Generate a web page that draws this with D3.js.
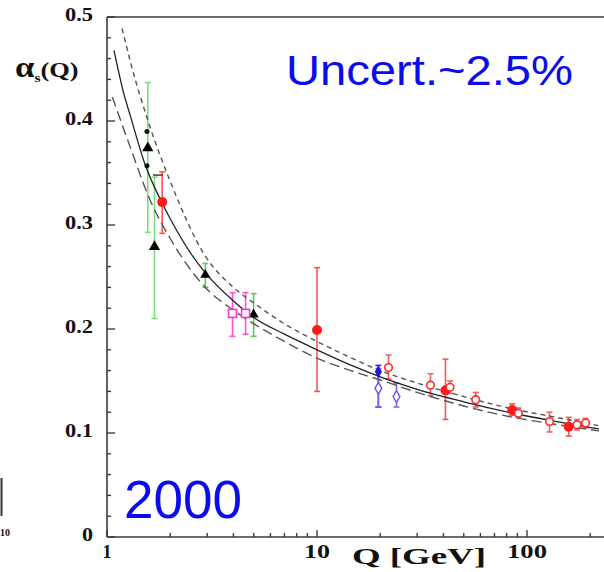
<!DOCTYPE html>
<html><head><meta charset="utf-8">
<script src="https://cdn.jsdelivr.net/npm/d3@7"></script>
<style>html,body{margin:0;padding:0;background:#fff;overflow:hidden}svg{display:block}</style>
</head><body>
<svg id="chart" width="604" height="572"></svg>
<script>
// ---- curves ----
const centralQ = [1.08,1.2,1.3,1.52,1.8,2,2.5,2.94,4,5,7,10,15,20,30,50,86,130,220];
const centralA = [0.468,0.427,0.403,0.358,0.324,0.306,0.273,0.254,0.227,0.211,0.195,0.180,0.164,0.154,0.142,0.130,0.119,0.112,0.104];
const upperQ = [1.18,1.3,1.58,2,2.94,4,5,7,10,15,20,30,50,86,130,220];
const upperA = [0.489,0.455,0.398,0.342,0.270,0.240,0.225,0.205,0.188,0.171,0.160,0.148,0.135,0.123,0.116,0.107];
const lowerQ = [1.06,1.3,1.58,2,2.94,4,5,7,10,15,20,30,50,86,130,220];
const lowerA = [0.423,0.373,0.327,0.287,0.240,0.218,0.205,0.188,0.172,0.159,0.151,0.139,0.126,0.115,0.109,0.102];

// ---- measurements ----
const greenTriQ = [1.564, 1.683];
const greenTriA = [0.374, 0.279];
const greenTriLo = [0.293, 0.210];
const greenTriHi = [0.437, 0.346];

const blackGreenQ = [2.94, 4.99];
const blackGreenA = [0.252, 0.214];
const blackGreenLo = [0.240, 0.193];
const blackGreenHi = [0.263, 0.234];

const redFilledQ = [1.832, 10, 40.9, 85, 158];
const redFilledA = [0.322, 0.199, 0.141, 0.122, 0.106];
const redFilledLo = [0.292, 0.140, 0.113, 0.117, 0.097];
const redFilledHi = [0.351, 0.259, 0.171, 0.128, 0.115];

const redOpenQ = [21.9, 34.7, 43, 57, 91, 128, 173, 190];
const redOpenA = [0.163, 0.146, 0.144, 0.132, 0.119, 0.111, 0.108, 0.1096];
const redOpenLo = [0.152, 0.136, 0.138, 0.125, 0.115, 0.101, 0.103, 0.105];
const redOpenHi = [0.175, 0.157, 0.150, 0.139, 0.124, 0.120, 0.113, 0.114];

const magentaQ = [3.96, 4.57];
const magentaA = [0.215, 0.215];
const magentaLo = [0.193, 0.195];
const magentaHi = [0.235, 0.235];

const blueFilledQ = [19.6];
const blueFilledA = [0.159];
const blueFilledLo = [0.125];
const blueFilledHi = [0.165];

const blueOpenQ = [19.6, 23.9];
const blueOpenA = [0.143, 0.135];
const blueOpenLo = [0.125, 0.125];
const blueOpenHi = [0.162, 0.148];

const blackDotQ = [1.55, 1.55];
const blackDotA = [0.390, 0.357];

const yTickVals = [0, 0.1, 0.2, 0.3, 0.4, 0.5];
const yTickLabels = ["0", "0.1", "0.2", "0.3", "0.4", "0.5"];
const xTickVals = [1, 10, 100];
const xTickLabels = ["1", "10", "100"];

// ---- drawing ----
const svg = d3.select("#chart");
const x = d3.scaleLog().domain([1, 100]).range([107, 527]);
const y = d3.scaleLinear().domain([0, 0.5]).range([537, 17]);
const xRight = 604;

const zip = (Q, A, Lo, Hi) => Q.map((q, i) => ({q, a: A[i], lo: Lo ? Lo[i] : null, hi: Hi ? Hi[i] : null}));

// frame
const axisCol = "#3a3a3a";
svg.append("line").attr("x1", x(1)).attr("x2", x(1)).attr("y1", y(0.5)).attr("y2", y(0)).attr("stroke", axisCol).attr("stroke-width", 1.6);
svg.append("line").attr("x1", x(1)).attr("x2", xRight).attr("y1", y(0)).attr("y2", y(0)).attr("stroke", axisCol).attr("stroke-width", 1.6);
svg.append("line").attr("x1", x(1)).attr("x2", xRight).attr("y1", y(0.5)).attr("y2", y(0.5)).attr("stroke", axisCol).attr("stroke-width", 1.6);

// y ticks (inward)
const yMinor = d3.range(0, 0.501, 0.02);
svg.append("g").selectAll("line").data(yMinor).join("line")
  .attr("x1", x(1)).attr("x2", d => x(1) + (Math.abs(d * 10 - Math.round(d * 10)) < 1e-6 ? 8 : 4))
  .attr("y1", d => y(d)).attr("y2", d => y(d))
  .attr("stroke", axisCol).attr("stroke-width", 1.4);
// x ticks (inward)
const xMinor = [];
[1, 10, 100].forEach(dec => { for (let k = 1; k <= 9; k++) { const v = dec * k; if (x(v) < xRight) xMinor.push(v); } });
svg.append("g").selectAll("line").data(xMinor).join("line")
  .attr("x1", d => x(d)).attr("x2", d => x(d))
  .attr("y1", y(0)).attr("y2", d => y(0) - (xTickVals.includes(d) ? 7 : 4))
  .attr("stroke", axisCol).attr("stroke-width", 1.4);

// tick labels
const serif = "'Liberation Serif','Times New Roman',serif";
svg.append("g").selectAll("text").data(yTickVals).join("text")
  .attr("x", 93).attr("y", d => y(d) + 4)
  .attr("text-anchor", "end")
  .attr("font-family", serif).attr("font-weight", "bold").attr("font-size", 18)
  .attr("fill", "#111")
  .attr("textLength", (d, i) => yTickLabels[i].length === 1 ? 11 : 28)
  .attr("lengthAdjust", "spacingAndGlyphs")
  .text((d, i) => yTickLabels[i]);

svg.append("g").selectAll("text").data(xTickVals).join("text")
  .attr("x", d => x(d)).attr("y", 558)
  .attr("text-anchor", "middle")
  .attr("font-family", serif).attr("font-weight", "bold").attr("font-size", 18)
  .attr("fill", "#111")
  .attr("textLength", (d, i) => [9, 26, 40][i])
  .attr("lengthAdjust", "spacingAndGlyphs")
  .text((d, i) => xTickLabels[i]);

svg.append("text").attr("x", 419).attr("y", 564).attr("text-anchor", "middle")
  .attr("font-family", serif).attr("font-weight", "bold").attr("font-size", 24).attr("fill", "#111")
  .attr("textLength", 134).attr("lengthAdjust", "spacingAndGlyphs")
  .text("Q [GeV]");

// y-axis title alpha_s(Q)
const yt = svg.append("text").attr("transform", "translate(15,77) scale(1.2,1)")
  .attr("font-family", serif).attr("font-weight", "bold").attr("fill", "#111");
yt.append("tspan").attr("font-size", 29).text("α");
yt.append("tspan").attr("font-size", 13).attr("dy", 5).text("s");
yt.append("tspan").attr("font-size", 22).attr("dy", -5).text("(Q)");

// left-edge fragment of a neighbouring panel
svg.append("line").attr("x1", 1.5).attr("x2", 1.5).attr("y1", 478).attr("y2", 516).attr("stroke", "#333").attr("stroke-width", 2);
svg.append("text").attr("x", 0).attr("y", 536).attr("font-family", serif).attr("font-weight", "bold").attr("font-size", 10).attr("fill", "#111").text("10");

// error bars
function errBars(data, col, w) {
  const g = svg.append("g").attr("stroke", col).attr("stroke-width", w || 1.5);
  data.forEach(d => {
    g.append("line").attr("x1", x(d.q)).attr("x2", x(d.q)).attr("y1", y(d.lo)).attr("y2", y(d.hi));
    g.append("line").attr("x1", x(d.q) - 3).attr("x2", x(d.q) + 3).attr("y1", y(d.lo)).attr("y2", y(d.lo));
    g.append("line").attr("x1", x(d.q) - 3).attr("x2", x(d.q) + 3).attr("y1", y(d.hi)).attr("y2", y(d.hi));
  });
}
const greenTri = zip(greenTriQ, greenTriA, greenTriLo, greenTriHi);
const blackGreen = zip(blackGreenQ, blackGreenA, blackGreenLo, blackGreenHi);
const redFilled = zip(redFilledQ, redFilledA, redFilledLo, redFilledHi);
const redOpen = zip(redOpenQ, redOpenA, redOpenLo, redOpenHi);
const magenta = zip(magentaQ, magentaA, magentaLo, magentaHi);
const blueFilled = zip(blueFilledQ, blueFilledA, blueFilledLo, blueFilledHi);
const blueOpen = zip(blueOpenQ, blueOpenA, blueOpenLo, blueOpenHi);
const blackDot = zip(blackDotQ, blackDotA);

errBars(greenTri, "#7fdc7f", 1.6);
errBars(blackGreen, "#5fc85f", 1.6);
errBars(magenta, "#ff55cc", 1.6);
errBars(redFilled, "#ef5a5a", 1.6);
errBars(redOpen, "#f06060", 1.6);
errBars(blueFilled, "#2a2ad0", 1.6);
errBars(blueOpen, "#7a6ae6", 1.6);

// curves
const line = d3.line().x(d => x(d.q)).y(d => y(d.a)).curve(d3.curveMonotoneX);
svg.append("path").datum(zip(upperQ, upperA)).attr("d", line).attr("fill", "none")
  .attr("stroke", "#555").attr("stroke-width", 1.4).attr("stroke-dasharray", "5,4");
svg.append("path").datum(zip(lowerQ, lowerA)).attr("d", line).attr("fill", "none")
  .attr("stroke", "#555").attr("stroke-width", 1.4).attr("stroke-dasharray", "10,5");
svg.append("path").datum(zip(centralQ, centralA)).attr("d", line).attr("fill", "none")
  .attr("stroke", "#222").attr("stroke-width", 1.3);

// symbols
const tri = d3.symbol().type(d3.symbolTriangle).size(55);
svg.append("g").selectAll("path").data(greenTri).join("path")
  .attr("transform", d => `translate(${x(d.q)},${y(d.a)})`).attr("d", tri).attr("fill", "#000");
svg.append("g").selectAll("path").data(blackGreen).join("path")
  .attr("transform", d => `translate(${x(d.q)},${y(d.a)})`).attr("d", d3.symbol().type(d3.symbolTriangle).size(45)).attr("fill", "#000");
svg.append("g").selectAll("circle").data(blackDot).join("circle")
  .attr("cx", d => x(d.q)).attr("cy", d => y(d.a)).attr("r", 2.5).attr("fill", "#111");
svg.append("line").attr("x1", x(blackDotQ[1]) + 6).attr("x2", x(1.84)).attr("y1", y(0.348)).attr("y2", y(0.348)).attr("stroke", "#222").attr("stroke-width", 1.3);
svg.append("g").selectAll("rect").data(magenta).join("rect")
  .attr("x", d => x(d.q) - 4).attr("y", d => y(d.a) - 4).attr("width", 8).attr("height", 8)
  .attr("fill", "#fff").attr("stroke", "#ff33cc").attr("stroke-width", 1.6);
svg.append("g").selectAll("circle").data(redFilled).join("circle")
  .attr("cx", d => x(d.q)).attr("cy", d => y(d.a)).attr("r", 5).attr("fill", "#ff1a1a");
svg.append("g").selectAll("circle").data(redOpen).join("circle")
  .attr("cx", d => x(d.q)).attr("cy", d => y(d.a)).attr("r", 3.8)
  .attr("fill", "#fff").attr("stroke", "#ff2a2a").attr("stroke-width", 1.6);
svg.append("g").selectAll("path").data(blueFilled).join("path")
  .attr("transform", d => `translate(${x(d.q)},${y(d.a)})`).attr("d", d3.symbol().type(d3.symbolDiamond).size(45)).attr("fill", "#1a1ad0");
svg.append("g").selectAll("path").data(blueOpen).join("path")
  .attr("transform", d => `translate(${x(d.q)},${y(d.a)})`).attr("d", d3.symbol().type(d3.symbolDiamond).size(40))
  .attr("fill", "#fff").attr("stroke", "#6f60e0").attr("stroke-width", 1.5);

// annotations
const sans = "'Liberation Sans', Arial, sans-serif";
svg.append("text").attr("x", 286).attr("y", 85).attr("font-family", sans).attr("font-size", 42)
  .attr("fill", "#0b0bf0").attr("textLength", 287).attr("lengthAdjust", "spacingAndGlyphs")
  .text("Uncert.~2.5%");
svg.append("text").attr("x", 124).attr("y", 518).attr("font-family", sans).attr("font-size", 53)
  .attr("fill", "#0b0bf0").attr("textLength", 118).attr("lengthAdjust", "spacingAndGlyphs")
  .text("2000");
</script>
</body></html>
